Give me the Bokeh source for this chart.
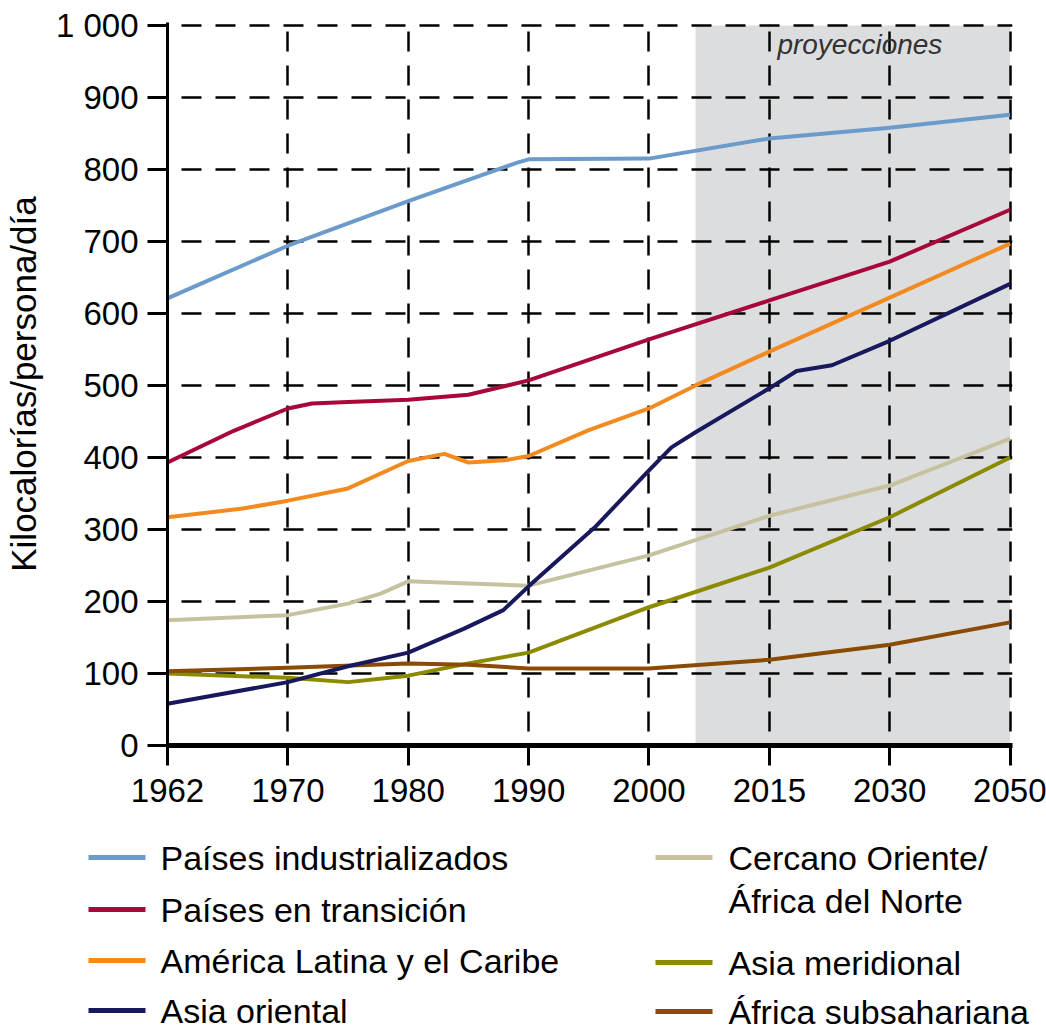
import numpy as np
from bokeh.plotting import figure
from bokeh.models import Range1d, FixedTicker, Label
from bokeh.layouts import column
from bokeh.embed import file_html
from bokeh.resources import INLINE
from bokeh.core.properties import value

# ---------------- data ----------------
TICK_YEARS = [1962, 1970, 1980, 1990, 2000, 2015, 2030, 2050]
TICK_LABELS = ["1962", "1970", "1980", "1990", "2000", "2015", "2030", "2050"]
Y_TICKS = [0, 100, 200, 300, 400, 500, 600, 700, 800, 900, 1000]
Y_TICK_LABELS = ["0", "100", "200", "300", "400", "500", "600", "700", "800", "900", "1 000"]
PROJ_START = 2005.8
PROJ_END = 2050
PROJ_TEXT = "proyecciones"
Y_LABEL = "Kilocalorías/persona/día"

ind_years = [1962, 1970, 1980, 1989, 1990, 2000, 2015, 2030, 2050]
ind_vals = [621, 694, 756, 809, 814, 815, 843, 858, 876]

tra_years = [1962, 1966.4, 1970, 1972, 1975, 1980, 1985, 1990, 2000, 2015, 2030, 2050]
tra_vals = [393, 437, 468, 475, 477, 480, 487, 507, 564, 618, 672, 744]

lat_years = [1962, 1967, 1970, 1975, 1980, 1983, 1985, 1988, 1990, 1995, 2000, 2005.8, 2015, 2030, 2050]
lat_vals = [317, 329, 340, 357, 395, 405, 393, 396, 402, 438, 468, 500, 547, 622, 697]

eas_years = [1962, 1970, 1975, 1980, 1984.6, 1987.9, 1990, 1995.5, 2000, 2002.8, 2005.8, 2015, 2018.4, 2022.8, 2030, 2050]
eas_vals = [58, 88, 110, 129, 162, 188, 221, 303, 382, 414, 435, 496, 520, 528, 562, 641]

nea_years = [1962, 1970, 1975, 1977.7, 1980, 1985, 1990, 2000, 2015, 2030, 2050]
nea_vals = [174, 181, 197, 211, 228, 225, 222, 264, 319, 361, 426]

sas_years = [1962, 1970, 1975, 1980, 1985, 1990, 2000, 2015, 2030, 2050]
sas_vals = [100, 94, 88, 97, 114, 129, 192, 247, 317, 400]

ssa_years = [1962, 1970, 1980, 1985, 1990, 2000, 2015, 2030, 2050]
ssa_vals = [103, 108, 114, 112, 107, 107, 119, 140, 171]

SERIES = [
    ("Países industrializados", ind_years, ind_vals, "#6B9BCB"),
    ("Países en transición", tra_years, tra_vals, "#A8073A"),
    ("América Latina y el Caribe", lat_years, lat_vals, "#F28A1F"),
    ("Asia oriental", eas_years, eas_vals, "#18185C"),
    ("Cercano Oriente/\nÁfrica del Norte", nea_years, nea_vals, "#C6C2A0"),
    ("Asia meridional", sas_years, sas_vals, "#8C8A00"),
    ("África subsahariana", ssa_years, ssa_vals, "#8A4B05"),
]

FONT = "Liberation Sans"
GRAY = "#DCDDDF"

TICK_POS = list(range(len(TICK_YEARS)))


def xpos(years):
    return np.interp(np.asarray(years, dtype=float), TICK_YEARS, TICK_POS)


# ---------------- main chart ----------------
p = figure(width=1046, height=825,
           x_range=Range1d(0, 7.02), y_range=Range1d(0, 1004),
           output_backend="svg", toolbar_location=None,
           min_border_left=167, min_border_right=34,
           min_border_top=22, min_border_bottom=80)
p.outline_line_color = None

# projection shading
p.quad(left=[float(xpos(PROJ_START))], right=[float(xpos(PROJ_END))],
       bottom=[Y_TICKS[0]], top=[Y_TICKS[-1]],
       fill_color=GRAY, line_color=None, level="image")

# grid
p.xgrid.ticker = FixedTicker(ticks=TICK_POS)
p.ygrid.ticker = FixedTicker(ticks=Y_TICKS)
p.grid.grid_line_color = "black"
p.grid.grid_line_width = 2.5
p.grid.grid_line_dash = "20 14"
p.grid.grid_line_dash_offset = 20

# series
draw_order = [4, 5, 6, 3, 2, 1, 0]
for i in draw_order:
    name, yrs, vals, col = SERIES[i]
    p.line(xpos(yrs), vals, line_color=col, line_width=4,
           line_join="round", line_cap="butt")

# axes
for ax in (p.xaxis, p.yaxis):
    ax.major_tick_out = 20
    ax.major_tick_in = 0
    ax.minor_tick_line_color = None
    ax.major_tick_line_width = 3
    ax.major_tick_line_color = "black"
    ax.axis_line_color = "black"
    ax.major_label_text_font = FONT
    ax.major_label_text_font_size = "33px"
    ax.major_label_text_color = "black"
    ax.major_label_standoff = 9

p.xaxis.ticker = FixedTicker(ticks=TICK_POS)
p.xaxis.major_label_overrides = {i: l for i, l in zip(TICK_POS, TICK_LABELS)}
p.xaxis.axis_line_width = 5
p.xaxis.major_label_standoff = 13

p.yaxis.ticker = FixedTicker(ticks=Y_TICKS)
p.yaxis.major_label_overrides = {t: l for t, l in zip(Y_TICKS, Y_TICK_LABELS)}
p.yaxis.axis_line_width = 3
p.yaxis.axis_label = Y_LABEL
p.yaxis.axis_label_text_font = FONT
p.yaxis.axis_label_text_font_style = "normal"
p.yaxis.axis_label_text_font_size = "35px"
p.yaxis.axis_label_text_color = "black"
p.yaxis.axis_label_standoff = 10

p.add_layout(Label(x=float(xpos(2016)), y=973, text=PROJ_TEXT,
                   text_font=FONT, text_font_style="italic",
                   text_font_size="28px", text_color="#333333",
                   text_align="left", text_baseline="middle"))

# ---------------- legend panel (page-pixel layout) ----------------
leg = figure(width=1046, height=207,
             x_range=Range1d(0, 1046), y_range=Range1d(1032, 825),
             output_backend="svg", toolbar_location=None,
             min_border=0, x_axis_location=None, y_axis_location=None)
try:
    leg.frame_align = False
except Exception:
    pass
leg.grid.visible = False
leg.outline_line_color = None

# (line start, line end, text start) per column; row centres per slot
COLS = [(88, 145, 160), (655, 712, 728)]
SLOTS = [(0, 857), (0, 909), (0, 960), (0, 1010),
         (1, 857), (1, 962), (1, 1011)]
LINE_GAP = 43

for (name, yrs, vals, col), (c, yy) in zip(SERIES, SLOTS):
    x0, x1, xt = COLS[c]
    leg.segment(x0=[x0], y0=[yy], x1=[x1], y1=[yy], line_color=col, line_width=5)
    for k, part in enumerate(name.split("\n")):
        leg.text(x=[xt], y=[yy + k * LINE_GAP], text=[part],
                 text_font=value(FONT), text_font_size="34px",
                 text_color="black", text_align="left", text_baseline="middle")

layout = column(p, leg)
open("out.html", "w").write(file_html(layout, INLINE))
